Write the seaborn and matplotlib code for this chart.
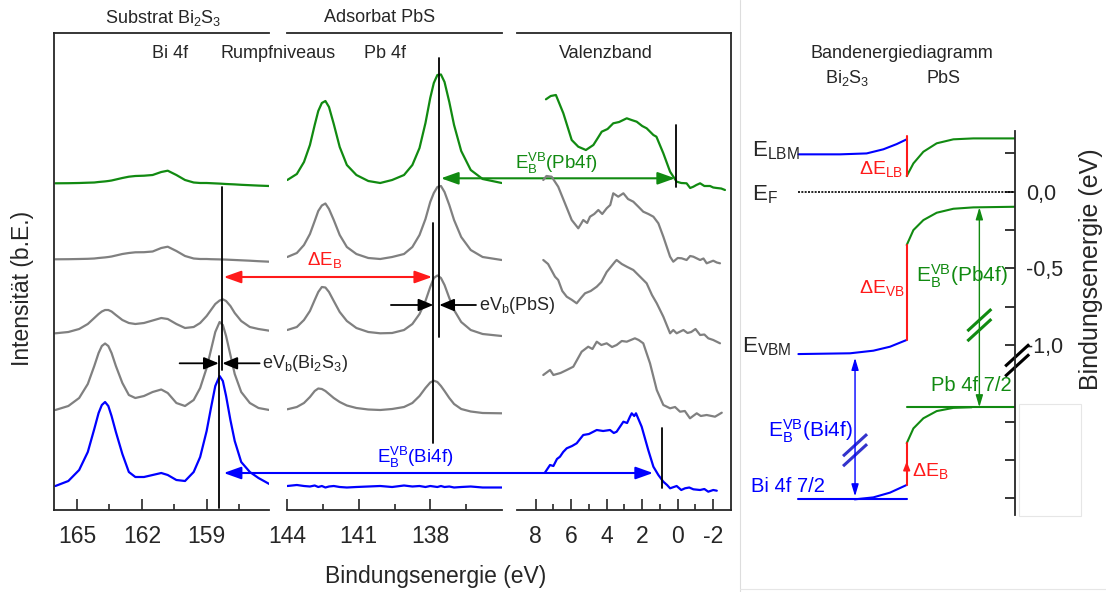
import numpy as np
import pandas as pd
import matplotlib.pyplot as plt
import seaborn as sns
from matplotlib.patches import Rectangle
from matplotlib.lines import Line2D

sns.set_style('ticks')
plt.rcParams['font.family'] = ['Liberation Sans', 'DejaVu Sans']
plt.rcParams['mathtext.fontset'] = 'custom'
plt.rcParams['mathtext.rm'] = 'Liberation Sans'
plt.rcParams['mathtext.it'] = 'Liberation Sans:italic'
plt.rcParams['mathtext.bf'] = 'Liberation Sans:bold'

GREEN = '#118a11'
GRAY = '#808080'
BLUE = '#0000ff'
RED = '#ff1a1a'

# %% data: Bi 4f core level (y = intensity incl. stacking offset)
bi_E = [166.0, 165.4, 164.9, 164.5, 164.2, 164.0, 163.85, 163.7, 163.55, 163.4, 163.2, 162.9,
        162.6, 162.3, 161.9, 161.5, 161.1, 160.8, 160.4, 160.0, 159.6, 159.3, 159.0, 158.8,
        158.6, 158.4, 158.25, 158.1, 157.9, 157.7, 157.4, 157.0, 156.6, 156.1]
bi_green = [326.7, 326.8, 327, 327.3, 327.5, 328, 328.3, 328.6, 329, 329.5, 330.5, 332, 333.3, 334,
            334.3, 335, 338, 339.3, 335, 330, 327.5, 327, 327, 326.8, 326.6, 326.4, 326.2, 326,
            325.8, 325.6, 325.2, 324.8, 324.4, 324]
bi_gray1 = [250.7, 250.8, 251, 251.2, 251.5, 252, 252.3, 252.6, 253, 253.5, 254.5, 256, 257, 257.7,
            257.8, 258.5, 262, 263.3, 259, 254, 251.5, 251, 251, 250.8, 250.7, 250.6, 250.5, 250.4,
            250.2, 250, 249.7, 249.3, 248.8, 248.3]
bi_gray2 = [176.7, 178, 181, 186, 192, 196, 198.5, 200, 200, 198.5, 195, 190, 187, 186, 187, 189.5,
            192, 191, 186, 182, 183, 187, 194, 200, 206, 209.5, 210.7, 209, 204, 197, 189, 183, 181,
            179.3]
bi_gray3 = [100, 104, 112, 126, 144, 157, 164, 166.5, 164, 157, 144, 127, 115, 112, 114, 118, 120.5,
            117, 107, 104, 110, 122, 142, 160, 178, 188, 185, 174, 155, 136, 118, 107, 102, 100]
bi_blue = [24, 29, 40, 58, 81, 97, 105, 108, 104, 94, 78, 56, 38, 33, 33, 35, 37, 35, 30, 29, 38, 53,
           79, 102, 124, 134, 129, 114, 90, 69, 48, 38, 32, 26]

# %% data: Pb 4f core level
pb_E = [144.0, 143.6, 143.3, 143.05, 142.85, 142.7, 142.55, 142.4, 142.25, 142.05, 141.8, 141.5,
        141.1, 140.6, 140.1, 139.6, 139.1, 138.75, 138.45, 138.2, 138.0, 137.85, 137.7, 137.55,
        137.4, 137.2, 137.0, 136.7, 136.3, 135.8, 135.0]
pb_green = [330, 336, 348, 365, 385, 399, 407, 409, 403, 386, 363, 345, 335, 329, 327, 330, 335, 345,
            362, 387, 412, 427, 435, 435.5, 428, 408, 385, 359, 340, 331, 327]
pb_gray1 = [253, 257, 265, 276, 289, 299, 304.5, 306.5, 301, 290, 275, 263, 256, 252, 251, 253, 256,
            263, 275, 291, 308, 317, 323, 324, 318, 305, 290, 273, 260, 253, 250]
pb_gray2 = [180, 183, 190, 199, 210, 218, 223, 222.5, 218, 209, 198, 189, 182, 178, 176.7, 177, 180,
            186, 196, 209, 223, 232, 234.5, 232, 225, 212, 200, 188, 180, 176, 174]
pb_gray3 = [100.7, 103, 107, 113, 119, 121.5, 121, 119, 116, 112, 108, 104.5, 102, 100.5, 100, 101,
            103, 107, 114, 122, 127.5, 129.3, 128, 124, 119, 112, 106, 101, 98.5, 97, 96.7]
pb_blue = [24, 25, 24, 23.5, 24.5, 23, 24, 22.5, 23.5, 24, 23, 22.5, 23, 23.5, 24, 23, 24.5, 23.5,
           24, 23, 24, 23.5, 23, 24, 23, 23.5, 22.5, 23, 23.5, 22.5, 22.5]

# %% data: valence band
vb_green_E = [7.42, 7.15, 6.86, 6.44, 5.97, 5.6, 5.17, 4.75, 4.5, 4.28, 3.95, 3.63, 3.3, 2.87, 2.6,
              2.31, 2.0, 1.75, 1.37, 1.2, 0.81, 0.43, 0.06, -0.2, -0.5, -0.7, -0.88, -1.05, -1.26,
              -1.5, -1.82, -2.0, -2.2, -2.45, -2.66]
vb_green = [410.7, 414, 415, 396.7, 370, 363.3, 360, 365, 372, 378.3, 381, 386.7, 388, 391.7, 390,
            388.3, 384, 381.7, 375, 373.3, 356.7, 338.3, 328.3, 327, 326.7, 322, 323.3, 325, 326.7,
            324, 324, 322.5, 322, 321.5, 320]
vb_gray1_E = [7.57, 7.39, 7.1, 6.73, 6.35, 5.97, 5.6, 5.45, 5.32, 5.1, 4.94, 4.7, 4.47, 4.25, 4.0,
              3.8, 3.63, 3.35, 3.06, 2.8, 2.5, 2.2, 1.94, 1.65, 1.37, 1.09, 0.81, 0.43, 0.25, 0.0,
              -0.22, -0.5, -0.7, -0.88, -1.26, -1.45, -1.63, -2.0, -2.2, -2.38]
vb_gray1 = [330, 334, 333.3, 323.3, 306.7, 290, 281.7, 286, 290, 287, 293.3, 296, 300, 296, 301.7,
            305, 316.7, 313.3, 316.7, 311, 308.3, 303, 298.3, 296, 293.3, 286.7, 273.3, 253.3, 248.3,
            252, 251.7, 250, 254, 253.3, 250, 251.5, 246.7, 249.3, 247.5, 246.7]
vb_gray2_E = [7.57, 7.3, 6.91, 6.73, 6.5, 6.25, 5.95, 5.69, 5.45, 5.22, 4.9, 4.56, 4.3, 4.0, 3.53,
              3.44, 3.15, 2.87, 2.5, 2.12, 1.75, 1.45, 1.18, 0.81, 0.43, 0.25, 0.06, -0.32, -0.55,
              -0.76, -1.0, -1.26, -1.5, -1.72, -2.0, -2.38]
vb_gray2 = [250, 246, 233.3, 230, 219, 213.3, 210, 206.7, 212, 216.7, 219, 223.3, 228, 238, 248.3,
            250, 246, 243.3, 240, 233.3, 226.7, 215, 206.7, 193.3, 176.7, 180, 176.7, 180, 177, 178,
            181, 175, 175.5, 171.7, 170, 166.7]
vb_gray3_E = [7.57, 7.19, 7.0, 6.6, 6.25, 5.88, 5.41, 5.04, 4.8, 4.56, 4.3, 4.0, 3.7, 3.44, 3.15,
              2.87, 2.41, 2.2, 1.94, 1.56, 1.18, 0.81, 0.43, 0.15, -0.13, -0.4, -0.69, -1.07, -1.3,
              -1.63, -2.1, -2.48]
vb_gray3 = [135, 140, 135, 137, 140, 143.3, 158.3, 163.3, 161, 168.3, 165, 166.7, 163, 165, 169,
            168.3, 171.7, 170, 166.7, 146.7, 120, 105, 101.7, 103, 98.3, 99, 91.7, 96.7, 94, 95,
            93.3, 97.3]
vb_blue_E = [7.48, 7.19, 7.0, 6.8, 6.63, 6.45, 6.25, 5.95, 5.69, 5.5, 5.32, 5.0, 4.56, 4.2, 3.81,
             3.6, 3.44, 3.06, 2.85, 2.69, 2.59, 2.45, 2.35, 2.03, 1.66, 1.37, 1.09, 0.81, 0.6, 0.43,
             0.06, -0.2, -0.41, -0.65, -0.88, -1.26, -1.5, -1.72, -2.0, -2.2]
vb_blue = [37.3, 45, 44, 51, 53.3, 58, 61.7, 64, 66.7, 71, 75, 76, 80, 79, 80, 77, 78.3, 88.3, 87,
           93.3, 96.7, 94, 96.7, 83.3, 60, 43.3, 35, 28.3, 25, 21.7, 24, 20, 21.7, 22.5, 20.7, 20,
           21, 18.3, 20, 19.3]

# %% data: band energy diagram (x: -1 bulk Bi2S3 .. 0 interface .. 1 PbS surface; y in eV)
bi_cb_x = [-1.0, -0.615, -0.37, -0.215, -0.092, 0.0]
bi_cb = [0.244, 0.244, 0.25, 0.277, 0.311, 0.342]
pbs_x = [0.0, 0.062, 0.154, 0.277, 0.431, 0.615, 1.0]
pbs_cb = [0.102, 0.185, 0.261, 0.316, 0.342, 0.348, 0.348]
pbs_vb = [-0.348, -0.25, -0.185, -0.137, -0.111, -0.102, -0.098]
bi_vb_x = [-1.0, -0.523, -0.308, -0.154, 0.0]
bi_vb = [-1.059, -1.054, -1.037, -1.011, -0.967]
bi4f_x = [-0.48, -0.308, -0.154, 0.0]
bi4f_bend = [-2.007, -1.994, -1.963, -1.913]
bi4f_level = -2.007
pb4f_x = [0.0, 0.062, 0.154, 0.277, 0.431, 0.6]
pb4f_bend = [-1.641, -1.544, -1.478, -1.431, -1.41, -1.406]
pb4f_level = -1.406
dE_LB = (0.363, 0.102)
dE_VB = (-0.348, -0.967)
dE_B = (-1.913, -1.641)

W, H = 1106, 592


def px_rect(left, top, right, bottom):
    return [left / W, 1 - bottom / H, (right - left) / W, (bottom - top) / H]


fig = plt.figure(figsize=(W / 100, H / 100), dpi=100)
ax1 = fig.add_axes(px_rect(54.3, 33, 269.3, 510))
ax2 = fig.add_axes(px_rect(287.3, 33, 501.7, 510))
ax3 = fig.add_axes(px_rect(517, 33, 731, 510))
ax4 = fig.add_axes(px_rect(745, 40, 1015, 515))

LW = 1.6
for E, curves, ax in [(bi_E, [bi_green, bi_gray1, bi_gray2, bi_gray3, bi_blue], ax1),
                      (pb_E, [pb_green, pb_gray1, pb_gray2, pb_gray3, pb_blue], ax2)]:
    for y, c in zip(curves, [GREEN, GRAY, GRAY, GRAY, BLUE]):
        sns.lineplot(x=E, y=y, ax=ax, color=c, lw=LW, sort=False)

for E, y, c in [(vb_green_E, vb_green, GREEN), (vb_gray1_E, vb_gray1, GRAY),
                (vb_gray2_E, vb_gray2, GRAY), (vb_gray3_E, vb_gray3, GRAY),
                (vb_blue_E, vb_blue, BLUE)]:
    sns.lineplot(x=E, y=y, ax=ax3, color=c, lw=LW, sort=False)

ax1.set_xlim(166.05, 156.1)
ax2.set_xlim(144.0, 135.0)
ax3.set_xlim(9.05, -3.0)
for ax, major, minor in [(ax1, [165, 162, 159], [163.5, 160.5, 157.5]),
                         (ax2, [144, 141, 138], [142.5, 139.5, 136.5]),
                         (ax3, [8, 6, 4, 2, 0, -2], [7, 5, 3, 1, -1])]:
    ax.set_ylim(0, 477)
    ax.set_xticks(major)
    ax.set_xticklabels([str(v) for v in major])
    ax.set_xticks(minor, minor=True)
    ax.set_yticks([])
    ax.set_xlabel('')
    ax.set_ylabel('')
    ax.tick_params(axis='x', which='major', direction='in', length=8, width=1.2,
                   labelsize=16.5, pad=11)
    ax.tick_params(axis='x', which='minor', direction='in', length=4, width=1.2)
    for s in ax.spines.values():
        s.set_linewidth(1.3)
    ax.spines['left'].set_visible(ax is ax1)
    ax.spines['right'].set_visible(ax is ax3)
    ax.set_facecolor('none')

# vertical marker lines
ax1.plot([158.27, 158.27], [323.3, 140], color='k', lw=1.3)
ax1.plot([158.44, 158.44], [154, 2], color='k', lw=1.3)
ax2.plot([137.62, 137.62], [452, 173], color='k', lw=1.3)
ax2.plot([137.87, 137.87], [287, 67], color='k', lw=1.3)
ax3.plot([0.11, 0.11], [385, 323.3], color='k', lw=1.3)
ax3.plot([0.87, 0.87], [82, 22], color='k', lw=1.3)

head = '-|>,head_length=0.6,head_width=0.25'
for ax, x0, x1, y in [(ax1, 160.25, 158.44, 146.7), (ax1, 156.55, 158.27, 146.7),
                      (ax2, 139.65, 137.87, 205), (ax2, 136.08, 137.62, 205)]:
    ax.annotate('', xy=(x1, y), xytext=(x0, y),
                arrowprops=dict(arrowstyle=head, color='k', lw=1.3, mutation_scale=15,
                                shrinkA=0, shrinkB=0), annotation_clip=False)

dbl = '<|-|>,head_length=0.7,head_width=0.25'
for ax_a, xa, ax_b, xb, y, c in [(ax1, 158.21, ax3, 1.39, 37, BLUE),
                                 (ax1, 158.21, ax2, 137.92, 233, RED),
                                 (ax2, 137.55, ax3, 0.15, 331.7, GREEN)]:
    ax_a.annotate('', xy=(xb, y), xycoords=ax_b.transData, xytext=(xa, y),
                  textcoords=ax_a.transData,
                  arrowprops=dict(arrowstyle=dbl, color=c, lw=1.5, mutation_scale=15,
                                  shrinkA=0, shrinkB=0), annotation_clip=False)

ax1.text(156.45, 146.7, r'eV$_\mathregular{b}$(Bi$_\mathregular{2}$S$_\mathregular{3}$)',
         fontsize=13, va='center', ha='left', clip_on=False)
ax2.text(135.94, 205, r'eV$_\mathregular{b}$(PbS)', fontsize=13, va='center', ha='left',
         clip_on=False)
ax2.text(142.45, 250, r'$\mathregular{\Delta E_B}$', color=RED, fontsize=13.5, ha='center',
         va='center')
ax2.text(138.63, 53, r'$\mathregular{E_B^{VB}}$(Bi4f)', color=BLUE, fontsize=13.5,
         ha='center', va='center', clip_on=False)
ax3.text(6.86, 347, r'$\mathregular{E_B^{VB}}$(Pb4f)', color=GREEN, fontsize=13.5,
         ha='center', va='center')

ax1.text(160.71, 457, 'Bi 4f', fontsize=13, ha='center', va='center')
ax2.text(139.89, 457, 'Pb 4f', fontsize=13, ha='center', va='center')
ax3.text(4.04, 457, 'Valenzband', fontsize=13, ha='center', va='center')
fig.text(278 / W, 1 - 53 / H, 'Rumpfniveaus', fontsize=13, ha='center', va='center')
fig.text(163 / W, 1 - 18 / H, r'Substrat Bi$_\mathregular{2}$S$_\mathregular{3}$', fontsize=13,
         ha='center', va='center')
fig.text(380 / W, 1 - 17 / H, 'Adsorbat PbS', fontsize=13, ha='center', va='center')
fig.text(435.5 / W, 1 - 577 / H, 'Bindungsenergie (eV)', fontsize=16.5, ha='center',
         va='center')
fig.text(23 / W, 1 - 288 / H, 'Intensität (b.E.)', fontsize=16.5, ha='center', va='center',
         rotation=90)

# %% band energy diagram
ax4.set_xlim(-1.493, 1.0)
ax4.set_ylim(-2.109, 0.99)
ax4.set_facecolor('none')
for s in ['left', 'top', 'bottom']:
    ax4.spines[s].set_visible(False)
ax4.spines['right'].set_linewidth(1.3)
ax4.spines['right'].set_bounds(-2.109, 0.398)
ax4.set_xticks([])
ax4.yaxis.tick_right()
ax4.set_yticks([0.0, -0.5, -1.0])
ax4.set_yticklabels(['0,0', '-0,5', '-1,0'])
ax4.set_yticks([0.25, -0.25, -0.75, -1.5, -1.75, -2.0], minor=True)
ax4.tick_params(axis='y', which='both', direction='in', length=7, width=1.3, labelsize=15.5,
                pad=8)

ax4.plot(bi_cb_x, bi_cb, color=BLUE, lw=1.5)
ax4.plot(bi_vb_x, bi_vb, color=BLUE, lw=1.5)
ax4.plot([-1.0, 0.0], [bi4f_level, bi4f_level], color=BLUE, lw=1.5)
ax4.plot(bi4f_x, bi4f_bend, color=BLUE, lw=1.5)
ax4.plot(pbs_x, pbs_cb, color=GREEN, lw=1.5)
ax4.plot(pbs_x, pbs_vb, color=GREEN, lw=1.5)
ax4.plot([0.0, 1.0], [pb4f_level, pb4f_level], color=GREEN, lw=1.5)
ax4.plot(pb4f_x, pb4f_bend, color=GREEN, lw=1.5)
for seg in [dE_LB, dE_VB, dE_B]:
    ax4.plot([0, 0], seg, color=RED, lw=1.5)
ax4.annotate('', xy=(0, -1.76), xytext=(0, -1.81),
             arrowprops=dict(arrowstyle='-|>,head_length=0.5,head_width=0.2', color=RED,
                             lw=1.2, mutation_scale=10, shrinkA=0, shrinkB=0))
ax4.plot([-1.0, 0.985], [0, 0], color='k', lw=1.2, ls=(0, (1.2, 0.8)))

small = '<|-|>,head_length=0.6,head_width=0.18'
ax4.annotate('', xy=(0.671, pb4f_level), xytext=(0.671, pbs_vb[-2]),
             arrowprops=dict(arrowstyle=small, color=GREEN, lw=1.0, mutation_scale=12,
                             shrinkA=0, shrinkB=0))
ax4.annotate('', xy=(-0.477, bi4f_level + 0.02), xytext=(-0.477, bi_vb[0] - 0.025),
             arrowprops=dict(arrowstyle=small, color=BLUE, lw=1.0, mutation_scale=12,
                             shrinkA=0, shrinkB=0))


def draw_break(ax, xc, yc, color):
    # two short parallel slanted strokes, sizes in pixels
    sx, sy = 1 / 108.3, 1 / 153.3
    for off in (-5, 5):
        ax.plot([xc - 12 * sx, xc + 12 * sx],
                [yc + off * sy - 11 * sy, yc + off * sy + 11 * sy],
                color=color, lw=2.2, clip_on=False, solid_capstyle='butt')


draw_break(ax4, 0.671, -0.87, GREEN)
draw_break(ax4, -0.477, -1.686, '#3333cc')
draw_break(ax4, 1.02, -1.1, 'k')

ax4.text(-0.046, 0.903, 'Bandenergiediagramm', fontsize=13, ha='center', va='center')
ax4.text(-0.554, 0.74, r'Bi$_\mathregular{2}$S$_\mathregular{3}$', fontsize=13, ha='center',
         va='center')
ax4.text(0.338, 0.74, 'PbS', fontsize=13, ha='center', va='center')
ax4.text(-1.43, 0.27, r'$\mathregular{E_{LBM}}$', fontsize=16, ha='left', va='center')
ax4.text(-0.03, 0.15, r'$\mathregular{\Delta E_{LB}}$', fontsize=14, color=RED, ha='right',
         va='center')
ax4.text(-1.43, -0.02, r'$\mathregular{E_F}$', fontsize=16, ha='left', va='center')
ax4.text(-1.52, -1.01, r'$\mathregular{E_{VBM}}$', fontsize=16, ha='left', va='center')
ax4.text(-0.017, -0.63, r'$\mathregular{\Delta E_{VB}}$', fontsize=14, color=RED, ha='right',
         va='center')
ax4.text(0.51, -0.55, r'$\mathregular{E_B^{VB}}$(Pb4f)', fontsize=15, color=GREEN,
         ha='center', va='center')
ax4.text(0.593, -1.261, 'Pb 4f 7/2', fontsize=14.5, color=GREEN, ha='center', va='center')
ax4.text(-0.893, -1.56, r'$\mathregular{E_B^{VB}}$(Bi4f)', fontsize=15, color=BLUE,
         ha='center', va='center')
ax4.text(-1.096, -1.926, 'Bi 4f 7/2', fontsize=14.5, color=BLUE, ha='center', va='center')
ax4.text(0.215, -1.82, r'$\mathregular{\Delta E_B}$', fontsize=14, color=RED, ha='center',
         va='center')
fig.text(1091 / W, 1 - 269 / H, 'Bindungsenergie (eV)', fontsize=18, rotation=90,
         ha='center', va='center')

# faint frame of the pasted band diagram
fig.add_artist(Line2D([739.5 / W, 739.5 / W], [0, 1], color='#dddddd', lw=0.8))
fig.add_artist(Line2D([739.5 / W, 1], [1 - 589 / H, 1 - 589 / H], color='#e6e6e6', lw=0.8))
fig.add_artist(Rectangle((1019 / W, 1 - 516 / H), 62 / W, 112 / H, transform=fig.transFigure,
                         facecolor='white', edgecolor='#e6e6e6', lw=0.8))

fig.savefig('out.png', dpi=100)
